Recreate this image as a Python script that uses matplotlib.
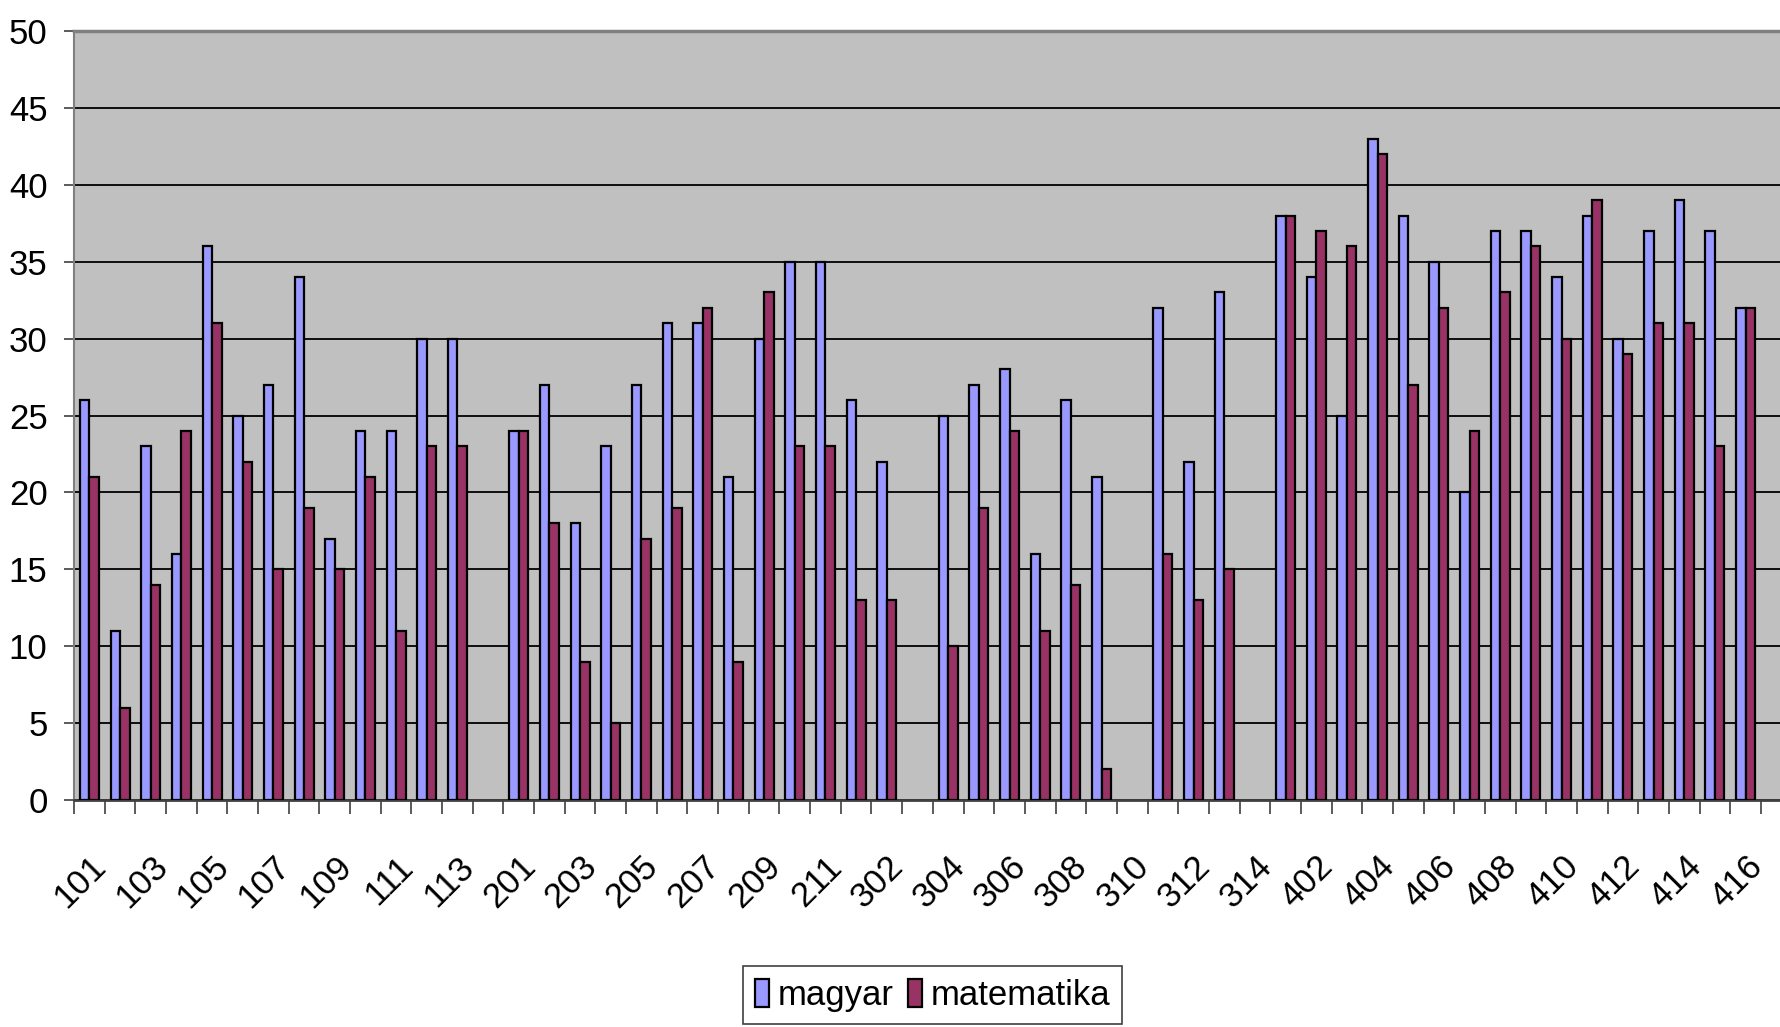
import numpy as np
import matplotlib
matplotlib.use('Agg')
import matplotlib.pyplot as plt
from matplotlib.ticker import MultipleLocator

# osztályok (55 kategória, csak minden második kap feliratot)
categories = ['101', '102', '103', '104', '105', '106', '107', '108', '109', '110',
              '111', '112', '113', '114',
              '201', '202', '203', '204', '205', '206', '207', '208', '209', '210',
              '211', '212',
              '302', '303', '304', '305', '306', '307', '308', '309', '310', '311',
              '312', '313', '314', '401',
              '402', '403', '404', '405', '406', '407', '408', '409', '410', '411',
              '412', '413', '414', '415', '416']

magyar = [26, 11, 23, 16, 36, 25, 27, 34, 17, 24, 24, 30, 30, None,
          24, 27, 18, 23, 27, 31, 31, 21, 30, 35, 35, 26,
          22, None, 25, 27, 28, 16, 26, 21, None, 32, 22, 33, None, 38,
          34, 25, 43, 38, 35, 20, 37, 37, 34, 38, 30, 37, 39, 37, 32]

matematika = [21, 6, 14, 24, 31, 22, 15, 19, 15, 21, 11, 23, 23, None,
              24, 18, 9, 5, 17, 19, 32, 9, 33, 23, 23, 13,
              13, None, 10, 19, 24, 11, 14, 2, None, 16, 13, 15, None, 38,
              37, 36, 42, 27, 32, 24, 33, 36, 30, 39, 29, 31, 31, 23, 32]

plt.rcParams['font.family'] = ['Liberation Sans', 'DejaVu Sans']
fs = 25

fig = plt.figure(figsize=(17.8, 10.27), dpi=100)
ax = fig.add_axes([74 / 1780, 1 - 800 / 1027, 1 - 74 / 1780, (800 - 31) / 1027])
ax.set_facecolor('#C0C0C0')

x = np.arange(len(categories))
m = np.array([np.nan if v is None else v for v in magyar], dtype=float)
t = np.array([np.nan if v is None else v for v in matematika], dtype=float)
w = 0.31
ax.bar(x - w / 2, m, w, color='#9999FF', edgecolor='black', linewidth=1.6, label='magyar', zorder=3)
ax.bar(x + w / 2, t, w, color='#993366', edgecolor='black', linewidth=1.6, label='matematika', zorder=3)

ax.set_ylim(0, 50)
ax.set_xlim(-0.5, 54.5 + 19 / 30.66)
ax.yaxis.set_major_locator(MultipleLocator(5))
ax.grid(axis='y', color='black', linewidth=1.3, zorder=1)
ax.set_axisbelow(True)

ax.set_xticks(x[::2])
ax.set_xticklabels(categories[::2], rotation=45, ha='right', va='top', rotation_mode='anchor')
ax.set_xticks(np.arange(-0.5, 55, 1), minor=True)
ax.tick_params(axis='x', which='major', length=0, pad=36, labelsize=fs)
ax.tick_params(axis='x', which='minor', length=10, width=1.2, color='#404040')
ax.tick_params(axis='y', length=7, width=1.2, color='#404040', pad=12, labelsize=fs)

ax.spines['right'].set_visible(False)
ax.spines['top'].set_color('#808080')
ax.spines['top'].set_linewidth(2.5)
ax.spines['left'].set_color('#808080')
ax.spines['left'].set_linewidth(1.5)
ax.spines['bottom'].set_color('#404040')
ax.spines['bottom'].set_linewidth(2)

leg = fig.legend(loc='upper center', bbox_to_anchor=(0.524, 0.059), ncol=2, fontsize=fs,
                 frameon=True, fancybox=False, edgecolor='#404040', framealpha=1,
                 handlelength=0.4, handleheight=0.9, handletextpad=0.25, columnspacing=0.4,
                 borderpad=0.35, borderaxespad=0)
leg.get_frame().set_linewidth(1.2)

fig.savefig('out.png', dpi=100)
